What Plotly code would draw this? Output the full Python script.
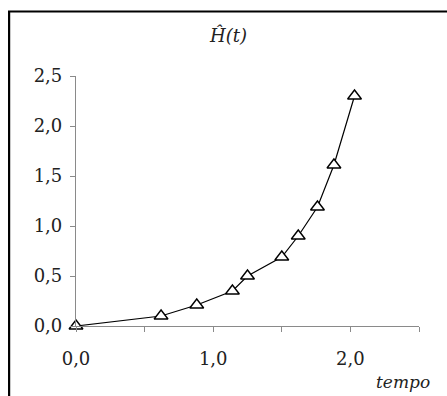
import plotly.graph_objects as go

# data
tempo = [0.0, 0.62, 0.88, 1.14, 1.25, 1.50, 1.62, 1.76, 1.88, 2.03]
H_hat = [0.0, 0.10, 0.21, 0.35, 0.50, 0.69, 0.90, 1.19, 1.61, 2.30]

x_tickvals = [0.0, 0.5, 1.0, 1.5, 2.0, 2.5]
x_ticktext = ["0,0", "", "1,0", "", "2,0", ""]
y_tickvals = [0.0, 0.5, 1.0, 1.5, 2.0, 2.5]
y_ticktext = ["0,0", "0,5", "1,0", "1,5", "2,0", "2,5"]

FONT = "DejaVu Serif"

fig = go.Figure()
fig.add_trace(go.Scatter(
    x=tempo, y=H_hat, mode="lines+markers",
    line=dict(color="black", width=1.2),
    marker=dict(symbol="triangle-up", size=12, color="white",
                line=dict(color="black", width=1.4)),
    cliponaxis=False, showlegend=False,
))

fig.update_layout(
    width=447, height=396,
    margin=dict(l=76, r=28, t=76, b=70),
    paper_bgcolor="white", plot_bgcolor="white",
    font=dict(family=FONT, size=18, color="#222"),
    xaxis=dict(range=[0, 2.5], tickvals=x_tickvals, ticktext=x_ticktext,
               showgrid=False, zeroline=False, showline=True,
               linecolor="#8a8a8a", linewidth=1.2, automargin=False,
               ticks="outside", ticklen=5, tickcolor="#8a8a8a",
               ticklabelstandoff=11, fixedrange=True),
    yaxis=dict(range=[0, 2.5], tickvals=y_tickvals, ticktext=y_ticktext,
               showgrid=False, zeroline=False, showline=True,
               linecolor="#8a8a8a", linewidth=1.2, automargin=False,
               ticks="outside", ticklen=5, tickcolor="#8a8a8a",
               ticklabelstandoff=4, fixedrange=True),
    shapes=[dict(type="path", xref="paper", yref="paper",
                 path="M -0.195,-0.5 L -0.195,1.258 L 1.3,1.258",
                 line=dict(color="black", width=2.2))],
    annotations=[
        dict(text="<i>Ĥ(t)</i>", xref="paper", yref="paper", x=0.443, y=1.164,
             showarrow=False, font=dict(family=FONT, size=18, color="#222"),
             xanchor="center", yanchor="middle"),
        dict(text="<i>tempo</i>", xref="paper", yref="paper", x=0.953, y=-0.224,
             showarrow=False, font=dict(family=FONT, size=17, color="#222"),
             xanchor="center", yanchor="middle"),
    ],
)

fig.write_html(
    "out.html",
    config={"displayModeBar": False},
    post_script="document.body.style.margin='0';document.body.style.overflow='hidden';",
)
